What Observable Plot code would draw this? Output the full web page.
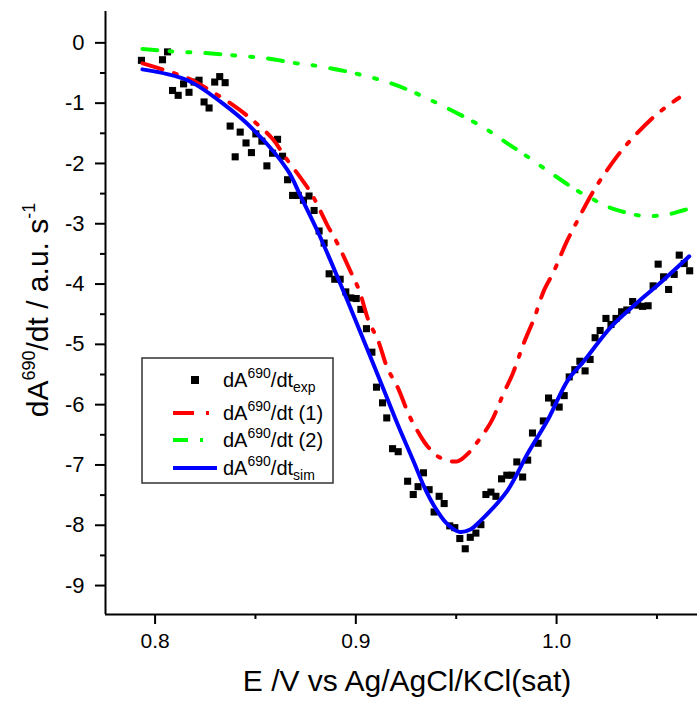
<!DOCTYPE html>
<html><head><meta charset="utf-8">
<script src="https://cdn.jsdelivr.net/npm/d3@7"></script>
<script src="https://cdn.jsdelivr.net/npm/@observablehq/plot@0.6"></script>
<style>
body{margin:0;background:#fff;}
#chart svg{font-family:"Liberation Sans",Arial,sans-serif;}
</style>
</head><body><div id="chart"></div>
<script>
// Experimental dA690/dt points
const expX = [0.7932,0.8037,0.8062,0.8087,0.8115,0.8142,0.8169,0.8194,0.8219,0.8244,0.8269,0.8297,0.8322,0.8349,0.8374,0.8399,0.8424,0.8453,0.8480,0.8502,0.8532,0.8557,0.8585,0.8610,0.8635,0.8660,0.8685,0.8713,0.8739,0.8767,0.8792,0.8817,0.8842,0.8867,0.8895,0.8922,0.8950,0.8975,0.9002,0.9025,0.9053,0.9080,0.9103,0.9133,0.9154,0.9183,0.9211,0.9258,0.9286,0.9310,0.9337,0.9365,0.9390,0.9415,0.9440,0.9468,0.9493,0.9518,0.9545,0.9570,0.9598,0.9623,0.9648,0.9673,0.9698,0.9726,0.9752,0.9777,0.9802,0.9831,0.9856,0.9880,0.9908,0.9934,0.9960,0.9988,1.0013,1.0038,1.0063,1.0091,1.0116,1.0142,1.0167,1.0192,1.0217,1.0246,1.0271,1.0296,1.0324,1.0350,1.0379,1.0404,1.0428,1.0456,1.0481,1.0506,1.0533,1.0558,1.0586,1.0611,1.0636,1.0663];
const expY = [-0.29,-0.28,-0.15,-0.79,-0.87,-0.68,-0.82,-0.65,-0.62,-0.98,-1.08,-0.65,-0.56,-0.66,-1.38,-1.89,-1.48,-1.66,-1.82,-1.51,-1.63,-2.04,-1.83,-1.60,-1.88,-2.27,-2.53,-2.53,-2.61,-2.54,-2.78,-3.12,-3.32,-3.83,-3.92,-3.92,-4.13,-4.23,-4.24,-4.42,-4.74,-5.13,-5.71,-5.97,-6.22,-6.73,-6.78,-7.27,-7.49,-7.36,-7.13,-7.41,-7.78,-7.52,-7.64,-8.01,-8.04,-8.22,-8.39,-8.20,-8.13,-7.99,-7.49,-7.45,-7.52,-7.23,-7.17,-7.17,-6.95,-7.20,-6.92,-6.47,-6.64,-6.27,-5.89,-5.97,-6.04,-5.85,-5.54,-5.42,-5.28,-5.44,-5.25,-4.89,-4.77,-4.57,-4.67,-4.57,-4.46,-4.43,-4.29,-4.35,-4.37,-4.36,-4.03,-3.67,-3.88,-4.09,-3.84,-3.52,-3.66,-3.78];

// dA690/dt (1)
const c1X = [0.7937,0.8028,0.8186,0.8269,0.8392,0.8467,0.8585,0.8643,0.8734,0.8784,0.8859,0.8909,0.8975,0.9016,0.9066,0.9108,0.9158,0.9208,0.9266,0.9315,0.9357,0.9415,0.9507,0.9565,0.9614,0.9673,0.9739,0.9781,0.9839,0.9888,0.9938,0.9985,1.0046,1.0096,1.0171,1.0217,1.0304,1.0367,1.0470,1.0550,1.0611];
const c1Y = [-0.34,-0.43,-0.62,-0.78,-1.04,-1.23,-1.59,-1.87,-2.28,-2.53,-3.03,-3.33,-3.80,-4.10,-4.63,-4.91,-5.40,-5.71,-6.18,-6.48,-6.69,-6.87,-6.94,-6.79,-6.58,-6.29,-5.79,-5.49,-4.96,-4.57,-4.10,-3.80,-3.33,-3.00,-2.53,-2.28,-1.87,-1.62,-1.27,-1.05,-0.91];

// dA690/dt (2)
const c2X = [0.7937,0.8078,0.8253,0.8402,0.8560,0.8705,0.8784,0.8975,0.9174,0.9374,0.9639,0.9756,0.9847,0.9972,1.0108,1.0174,1.0241,1.0320,1.0430,1.0548,1.0628,1.0679];
const c2Y = [-0.10,-0.14,-0.17,-0.21,-0.26,-0.34,-0.37,-0.49,-0.67,-0.95,-1.41,-1.67,-1.87,-2.16,-2.46,-2.58,-2.70,-2.79,-2.87,-2.85,-2.78,-2.73];

// dA690/dt sim
const simX = [0.7937,0.8161,0.8327,0.8493,0.8660,0.8726,0.8809,0.8875,0.8960,0.9041,0.9141,0.9215,0.9290,0.9340,0.9390,0.9450,0.9515,0.9570,0.9623,0.9756,0.9856,0.9955,1.0055,1.0138,1.0271,1.0387,1.0520,1.0661];
const simY = [-0.44,-0.62,-0.98,-1.45,-2.11,-2.55,-3.12,-3.62,-4.29,-4.95,-5.77,-6.38,-6.96,-7.36,-7.68,-7.96,-8.11,-8.07,-7.92,-7.42,-6.81,-6.26,-5.60,-5.27,-4.71,-4.35,-3.97,-3.54];

const xMajor = [0.8, 0.9, 1.0];
const xMinor = [0.85, 0.95, 1.05];
const yMajor = [0, -1, -2, -3, -4, -5, -6, -7, -8, -9];
const yMinor = [-0.5, -1.5, -2.5, -3.5, -4.5, -5.5, -6.5, -7.5, -8.5];
const xDomain = [0.7753, 1.0702];
const yDomain = [-9.48, 0.52];

const toRows = (xs, ys) => xs.map((x, i) => ({x, y: ys[i]}));
const expData = toRows(expX, expY);
const c1Data = toRows(c1X, c1Y);
const c2Data = toRows(c2X, c2Y);
const simData = toRows(simX, simY);

const svg = Plot.plot({
  width: 697, height: 704,
  marginLeft: 105, marginRight: 0, marginTop: 11, marginBottom: 90,
  style: {background: "#fff", color: "#000", fontFamily: "'Liberation Sans', Arial, sans-serif", overflow: "visible"},
  x: {domain: xDomain, label: null},
  y: {domain: yDomain, label: null},
  marks: [
    Plot.axisX(xMajor, {tickSize: 10, tickPadding: 9, fontSize: 21, strokeWidth: 2, tickFormat: d3.format(".1f"), label: null}),
    Plot.axisX(xMinor, {tickSize: 5, strokeWidth: 2, tickFormat: () => "", label: null}),
    Plot.axisY(yMajor, {tickSize: 10, tickPadding: 11, fontSize: 22, strokeWidth: 2, tickFormat: d => String(d), label: null}),
    Plot.axisY(yMinor, {tickSize: 5, strokeWidth: 2, tickFormat: () => "", label: null}),
    Plot.ruleX([xDomain[0]], {stroke: "#000", strokeWidth: 2}),
    Plot.ruleY([yDomain[0]], {stroke: "#000", strokeWidth: 2}),
    Plot.dot(expData, {x: "x", y: "y", symbol: "square", r: 4, fill: "#000", stroke: null}),
    Plot.line(c1Data, {x: "x", y: "y", curve: "catmull-rom", stroke: "#ff0000", strokeWidth: 4, strokeDasharray: "21,12,3,12"}),
    Plot.line(c2Data, {x: "x", y: "y", curve: "catmull-rom", stroke: "#00ff00", strokeWidth: 4, strokeDasharray: "15,12,3,15,3,15"}),
    Plot.line(simData, {x: "x", y: "y", curve: "catmull-rom", stroke: "#0000ff", strokeWidth: 4})
  ]
});
document.getElementById("chart").appendChild(svg);

const s = d3.select(svg);
const FONT = "'Liberation Sans', Arial, sans-serif";

// x title
s.append("text").attr("x", 407).attr("y", 691).attr("text-anchor", "middle")
  .attr("font-size", 30).attr("font-family", FONT).attr("fill", "#000")
  .text("E /V vs Ag/AgCl/KCl(sat)");

// y title
const yt = s.append("text").attr("transform", "translate(48,310) rotate(-90)")
  .attr("text-anchor", "middle").attr("font-size", 30).attr("font-family", FONT).attr("fill", "#000");
yt.append("tspan").text("dA");
yt.append("tspan").attr("font-size", 18).attr("dy", -13).text("690");
yt.append("tspan").attr("dy", 13).text("/dt / a.u. s");
yt.append("tspan").attr("font-size", 18).attr("dy", -13).text("-1");

// legend
const lg = s.append("g");
lg.append("rect").attr("x", 142).attr("y", 358).attr("width", 191).attr("height", 125)
  .attr("fill", "#fff").attr("stroke", "#333").attr("stroke-width", 1.5);
const rows = [
  {base: 387, kind: "sq", sub: "exp", tail: ""},
  {base: 420, kind: "line", color: "#ff0000", dash: "21,12,3,12", sub: null, tail: " (1)"},
  {base: 447, kind: "line", color: "#00ff00", dash: "15,12,3,15,3,15", sub: null, tail: " (2)"},
  {base: 475, kind: "line", color: "#0000ff", dash: null, sub: "sim", tail: ""}
];
rows.forEach(r => {
  const cy = r.base - 7;
  if (r.kind === "sq") {
    lg.append("rect").attr("x", 191).attr("y", cy - 4).attr("width", 8).attr("height", 8).attr("fill", "#000");
  } else {
    const ln = lg.append("line").attr("x1", 173).attr("x2", 217).attr("y1", cy).attr("y2", cy)
      .attr("stroke", r.color).attr("stroke-width", 4);
    if (r.dash) ln.attr("stroke-dasharray", r.dash);
  }
  const t = lg.append("text").attr("x", 223).attr("y", r.base).attr("font-size", 20)
    .attr("text-anchor", "start").attr("font-family", FONT).attr("fill", "#000");
  t.append("tspan").text("dA");
  t.append("tspan").attr("font-size", 14).attr("dy", -9).text("690");
  t.append("tspan").attr("dy", 9).text("/dt" + r.tail);
  if (r.sub) t.append("tspan").attr("font-size", 14).attr("dy", 5).text(r.sub);
});
</script>
</body></html>
